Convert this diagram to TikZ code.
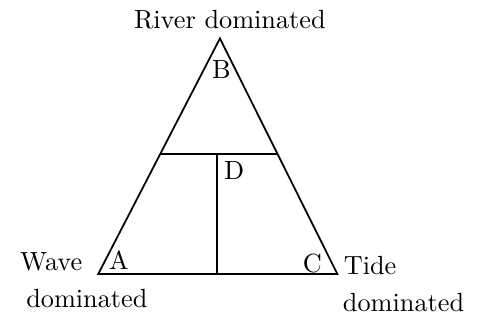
\documentclass[tikz,border=0pt]{standalone}
\usetikzlibrary{calc}
\begin{document}
\begin{tikzpicture}[
  lbl/.style={font=\fontsize{10.5}{12}\selectfont, inner sep=0pt},
  edge/.style={line width=0.7pt, line join=miter}]
  \useasboundingbox (0,0) rectangle (6.8,4.5);

  % ---------- vertices of the triangle ----------
  \coordinate (riv) at (3.09,3.96);
  \coordinate (wav) at (1.38,0.65);
  \coordinate (tid) at (4.74,0.65);
  \coordinate (ml) at ($(wav)!0.51!(riv)$);
  \coordinate (mr) at ($(tid)!0.51!(riv)$);
  \coordinate (dtop) at ($(ml)!0.485!(mr)$);
  \coordinate (dfoot) at (dtop |- wav);

  \draw[edge] (wav) -- (riv) -- (tid) -- cycle;
  \draw[edge] (ml) -- (mr);
  \draw[edge] (dtop) -- (dfoot);

  % ---------- corner letters ----------
  \node[lbl] (lb) at (3.11,3.52) {B};
  \node[lbl] (ld) at (3.29,2.11) {D};
  \node[lbl] (la) at (1.67,0.84) {A};
  \node[lbl] (lc) at (4.39,0.80) {C};

  % ---------- end members ----------
  \node[lbl] (river) at (3.23,4.22) {River dominated};
  \node[lbl] (wave1) at (0.72,0.82) {Wave};
  \node[lbl] (wave2) at (1.22,0.31) {dominated};
  \node[lbl] (tide1) at (5.20,0.77) {Tide};
  \node[lbl] (tide2) at (5.67,0.25) {dominated};

\end{tikzpicture}
\end{document}
